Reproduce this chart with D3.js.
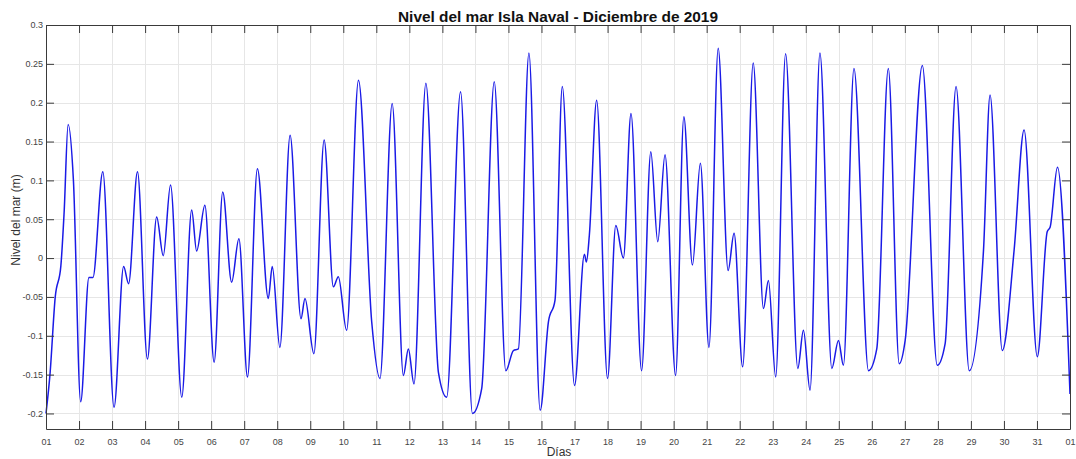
<!DOCTYPE html>
<html>
<head>
<meta charset="utf-8">
<script src="https://cdn.jsdelivr.net/npm/d3@7"></script>
<style>
  html, body { margin: 0; padding: 0; background: #fff; }
  svg { display: block; font-family: "Liberation Sans", Arial, sans-serif; }
</style>
</head>
<body>
<svg id="chart" width="1076" height="459"></svg>
<script>
// Time in days since 01-Dec-2019 00:00 and sea level in metres
const days = [
  0, 0.12, 0.28, 0.45, 0.55, 0.67, 0.83, 1.05, 1.30, 1.42, 1.72, 2.06, 2.35, 2.50, 2.77,
  3.07, 3.35, 3.55, 3.77, 4.11, 4.41, 4.56, 4.81, 5.09, 5.35, 5.62, 5.84, 6.10, 6.40,
  6.73, 6.85, 7.08, 7.39, 7.72, 7.84, 8.11, 8.42, 8.70, 8.85, 9.10, 9.46, 9.86, 10.11,
  10.48, 10.82, 10.97, 11.14, 11.50, 11.88, 12.13, 12.55, 12.91, 13.19, 13.57, 13.92,
  14.15, 14.30, 14.62, 14.96, 15.21, 15.41, 15.63, 16.00, 16.30, 16.36, 16.45, 16.67,
  17.00, 17.25, 17.48, 17.71, 18.03, 18.31, 18.52, 18.74, 19.06, 19.31, 19.57, 19.81,
  20.07, 20.35, 20.65, 20.83, 21.09, 21.41, 21.72, 21.87, 22.09, 22.39, 22.76, 22.93,
  23.13, 23.43, 23.79, 23.99, 24.14, 24.46, 24.90, 25.15, 25.50, 25.83, 26.01, 26.53,
  26.98, 27.22, 27.55, 27.95, 28.38, 28.58, 28.95, 29.31, 29.61, 30.01, 30.31, 30.40,
  30.62, 31.00
];
const level = [
  -0.200, -0.150, -0.050, -0.010, 0.060, 0.172, 0.100, -0.185, -0.025, -0.025, 0.111, -0.192, -0.011, -0.033, 0.111,
  -0.130, 0.053, 0.003, 0.094, -0.179, 0.062, 0.009, 0.068, -0.134, 0.085, -0.031, 0.025, -0.153, 0.115,
  -0.052, -0.011, -0.115, 0.158, -0.078, -0.052, -0.123, 0.152, -0.037, -0.024, -0.093, 0.229, -0.082, -0.155,
  0.199, -0.151, -0.117, -0.162, 0.225, -0.147, -0.179, 0.214, -0.200, -0.168, 0.227, -0.145,
  -0.119, -0.117, 0.264, -0.196, -0.082, -0.054, 0.221, -0.164, 0.005, -0.005, 0.030, 0.203,
  -0.155, 0.042, 0.000, 0.186, -0.145, 0.137, 0.021, 0.133, -0.151, 0.182, -0.009, 0.122,
  -0.115, 0.270, -0.016, 0.032, -0.140, 0.251, -0.065, -0.029, -0.153, 0.263, -0.142, -0.093,
  -0.170, 0.264, -0.142, -0.106, -0.138, 0.244, -0.145, -0.117, 0.244, -0.136, -0.106, 0.248,
  -0.138, -0.110, 0.221, -0.145, 0.009, 0.210, -0.119, 0.011, 0.165, -0.127, 0.034, 0.040,
  0.117, -0.175
];
const xTickLabels = ["01","02","03","04","05","06","07","08","09","10","11","12","13","14","15","16",
  "17","18","19","20","21","22","23","24","25","26","27","28","29","30","31","01"];
const yTicks = [-0.2, -0.15, -0.1, -0.05, 0, 0.05, 0.1, 0.15, 0.2, 0.25, 0.3];
const yTickLabels = ["-0.2","-0.15","-0.1","-0.05","0","0.05","0.1","0.15","0.2","0.25","0.3"];
const titleText = "Nivel del mar Isla Naval - Diciembre de 2019";
const xLabel = "Días";
const yLabel = "Nivel del mar (m)";

const svg = d3.select("#chart");
const mLeft = 46, mRight = 1070, mTop = 25, mBottom = 429;

const x = d3.scaleLinear().domain([0, 31]).range([mLeft, mRight]);
const y = d3.scaleLinear().domain([-0.22, 0.3]).range([mBottom, mTop]);
const xTicks = d3.range(0, 32);

// grid
const grid = svg.append("g").attr("stroke", "#e6e6e6").attr("stroke-width", 1);
grid.selectAll("line.gx").data(xTicks).join("line").attr("class", "gx")
  .attr("x1", d => Math.round(x(d)) + 0.5).attr("x2", d => Math.round(x(d)) + 0.5)
  .attr("y1", mTop).attr("y2", mBottom);
grid.selectAll("line.gy").data(yTicks).join("line").attr("class", "gy")
  .attr("x1", mLeft).attr("x2", mRight)
  .attr("y1", d => Math.round(y(d)) + 0.5).attr("y2", d => Math.round(y(d)) + 0.5);

// data line
const pts = days.map((d, i) => [d, level[i]]);
const line = d3.line().x(d => x(d[0])).y(d => y(d[1])).curve(d3.curveMonotoneX);
svg.append("path").attr("d", line(pts))
  .attr("fill", "none").attr("stroke", "#1a1ae6").attr("stroke-width", 1.5)
  .attr("stroke-linejoin", "round");

// axes
const axisColor = "#3a3a3a";
const tl = 8;
const xAxis = d3.axisBottom(x).tickValues(xTicks).tickFormat((d, i) => xTickLabels[i])
  .tickSizeInner(-tl).tickSizeOuter(0).tickPadding(10);
const gx = svg.append("g").attr("transform", `translate(0,${mBottom})`).call(xAxis);
const xTop = d3.axisTop(x).tickValues(xTicks).tickFormat("").tickSizeInner(-tl).tickSizeOuter(0);
const gxt = svg.append("g").attr("transform", `translate(0,${mTop})`).call(xTop);
const yAxis = d3.axisLeft(y).tickValues(yTicks).tickFormat((d, i) => yTickLabels[i])
  .tickSizeInner(-tl).tickSizeOuter(0).tickPadding(3);
const gy = svg.append("g").attr("transform", `translate(${mLeft},0)`).call(yAxis);
const yRight = d3.axisRight(y).tickValues(yTicks).tickFormat("").tickSizeInner(-tl).tickSizeOuter(0);
const gyr = svg.append("g").attr("transform", `translate(${mRight},0)`).call(yRight);

[gx, gxt, gy, gyr].forEach(g => {
  g.selectAll(".domain").attr("stroke", axisColor);
  g.selectAll(".tick line").attr("stroke", axisColor);
  g.selectAll(".tick text").attr("fill", "#444").attr("font-size", 9)
    .attr("font-family", "'Liberation Sans', Arial, sans-serif");
});

// title & labels
svg.append("text").attr("x", (mLeft + mRight) / 2).attr("y", 22)
  .attr("text-anchor", "middle").attr("font-size", 14).attr("font-weight", "bold")
  .attr("textLength", 320).attr("lengthAdjust", "spacingAndGlyphs")
  .attr("fill", "#111").text(titleText);
svg.append("text").attr("x", 559).attr("y", 456)
  .attr("text-anchor", "middle").attr("font-size", 12).attr("fill", "#333").text(xLabel);
svg.append("text").attr("transform", `translate(19.5,220) rotate(-90)`)
  .attr("text-anchor", "middle").attr("font-size", 12).attr("fill", "#333").text(yLabel);
</script>
</body>
</html>
